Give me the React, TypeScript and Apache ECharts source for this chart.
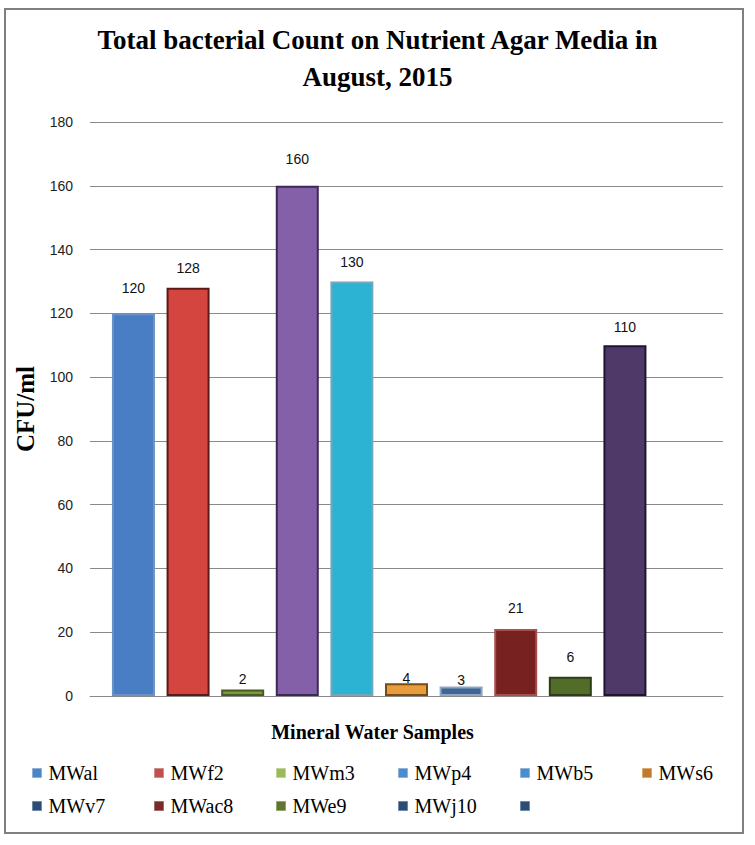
import React, { useEffect, useRef } from "react";
import * as echarts from "echarts";

const titleText = "Total bacterial Count on Nutrient Agar Media in\nAugust, 2015";
const xAxisName = "Mineral Water Samples";
const yAxisName = "CFU/ml";
const categories = ["August 2015"];
const sampleNames = ["MWal", "MWf2", "MWm3", "MWp4", "MWb5", "MWs6", "MWv7", "MWac8", "MWe9", "MWj10", " "];
const sampleValues: (number | null)[] = [120, 128, 2, 160, 130, 4, 3, 21, 6, 110, null];
const yTicks = { min: 0, max: 180, interval: 20 };

// styling (kept apart from the data)
const barFills = ["#4a7ec4", "#d4453f", "#7b9a3c", "#8460a8", "#2cb2d3", "#e79d3e", "#3f6597", "#772120", "#526d29", "#4f3968", "#3f6597"];
const barBorders = ["#6a92c6", "#5b1a18", "#4b5a23", "#3b2a56", "#76a6ba", "#7a4c12", "#8ea5c3", "#a8504e", "#2e3d14", "#1f1530", "#2c4d75"];
const legendFills = ["#4a86c8", "#c0504d", "#9bbb59", "#4a8cd0", "#4a8cd0", "#c07a2a", "#2c4d75", "#772c2a", "#5f7530", "#2c4d75", "#2c4d75"];
const legendBorders = ["#8fb0d8", "#d58a88", "#c0d49a", "#8fb4dc", "#8fb4dc", "#dca870", "#6e88a8", "#a86a68", "#93a468", "#6e88a8", "#6e88a8"];
const labelDistances = [18, 13, 4, 20, 12, -2, -1, 14, 13, 11, 0];

const LEGEND_PER_ROW = 6;
const LEGEND_LEFT = 32;
const LEGEND_COL_W = 122;
const LEGEND_TOPS = [763, 796];

export default function App() {
  const ref = useRef<HTMLDivElement>(null);
  useEffect(() => {
    if (!ref.current) return;
    const chart = echarts.init(ref.current, null, { renderer: "svg" });
    const legends = sampleNames.map((n, i) => ({
      orient: "horizontal",
      left: LEGEND_LEFT + LEGEND_COL_W * (i % LEGEND_PER_ROW),
      top: LEGEND_TOPS[Math.floor(i / LEGEND_PER_ROW)],
      padding: 0,
      itemWidth: 9,
      itemHeight: 9,
      icon: "rect",
      selectedMode: false,
      data: [
        {
          name: n,
          itemStyle: { color: legendFills[i], borderColor: legendBorders[i], borderWidth: 1 },
        },
      ],
      textStyle: { fontFamily: "Liberation Serif", fontSize: 20, color: "#000", padding: [0, 0, 0, 2] },
    }));
    const option: any = {
      animation: false,
      backgroundColor: "#fff",
      title: {
        text: titleText,
        left: "center",
        top: 16,
        padding: [5, 15, 5, 5],
        textStyle: {
          fontFamily: "Liberation Serif",
          fontWeight: "bold",
          fontSize: 27,
          lineHeight: 37,
          color: "#000",
        },
      },
      legend: legends,
      grid: { left: 90, right: 32, top: 122, bottom: 149 },
      xAxis: {
        type: "category",
        data: categories,
        name: xAxisName,
        nameLocation: "middle",
        nameGap: 26,
        nameTextStyle: {
          fontFamily: "Liberation Serif",
          fontWeight: "bold",
          fontSize: 20,
          color: "#000",
          padding: [0, 68, 0, 0],
        },
        axisLine: { show: true, lineStyle: { color: "#8a8a8a", width: 1 } },
        axisTick: { show: false },
        axisLabel: { show: false },
      },
      yAxis: {
        type: "value",
        min: yTicks.min,
        max: yTicks.max,
        interval: yTicks.interval,
        name: yAxisName,
        nameLocation: "middle",
        nameGap: 52,
        nameRotate: 90,
        nameTextStyle: {
          fontFamily: "Liberation Serif",
          fontWeight: "bold",
          fontSize: 25,
          color: "#000",
        },
        axisLine: { show: false },
        axisTick: { show: false },
        axisLabel: { margin: 17, fontFamily: "Liberation Sans", fontSize: 14, color: "#222" },
        splitLine: { lineStyle: { color: "#8a8a8a", width: 1 } },
      },
      graphic: [
        {
          type: "rect",
          shape: { x: 5, y: 9, width: 738, height: 824 },
          style: { fill: "none", stroke: "#808080", lineWidth: 2 },
          silent: true,
        },
      ],
      series: sampleNames.map((n, i) => ({
        type: "bar",
        name: n,
        data: [sampleValues[i]],
        barWidth: 43,
        barGap: "27%",
        itemStyle: { color: barFills[i], borderColor: barBorders[i], borderWidth: 2 },
        label: {
          show: true,
          position: "top",
          distance: labelDistances[i],
          fontFamily: "Liberation Sans",
          fontSize: 14,
          color: "#111",
        },
      })),
    };
    chart.setOption(option);
    return () => chart.dispose();
  }, []);
  return (
    <div
      ref={ref}
      style={{ position: "absolute", left: 0, top: 0, width: 755, height: 845 }}
    />
  );
}
